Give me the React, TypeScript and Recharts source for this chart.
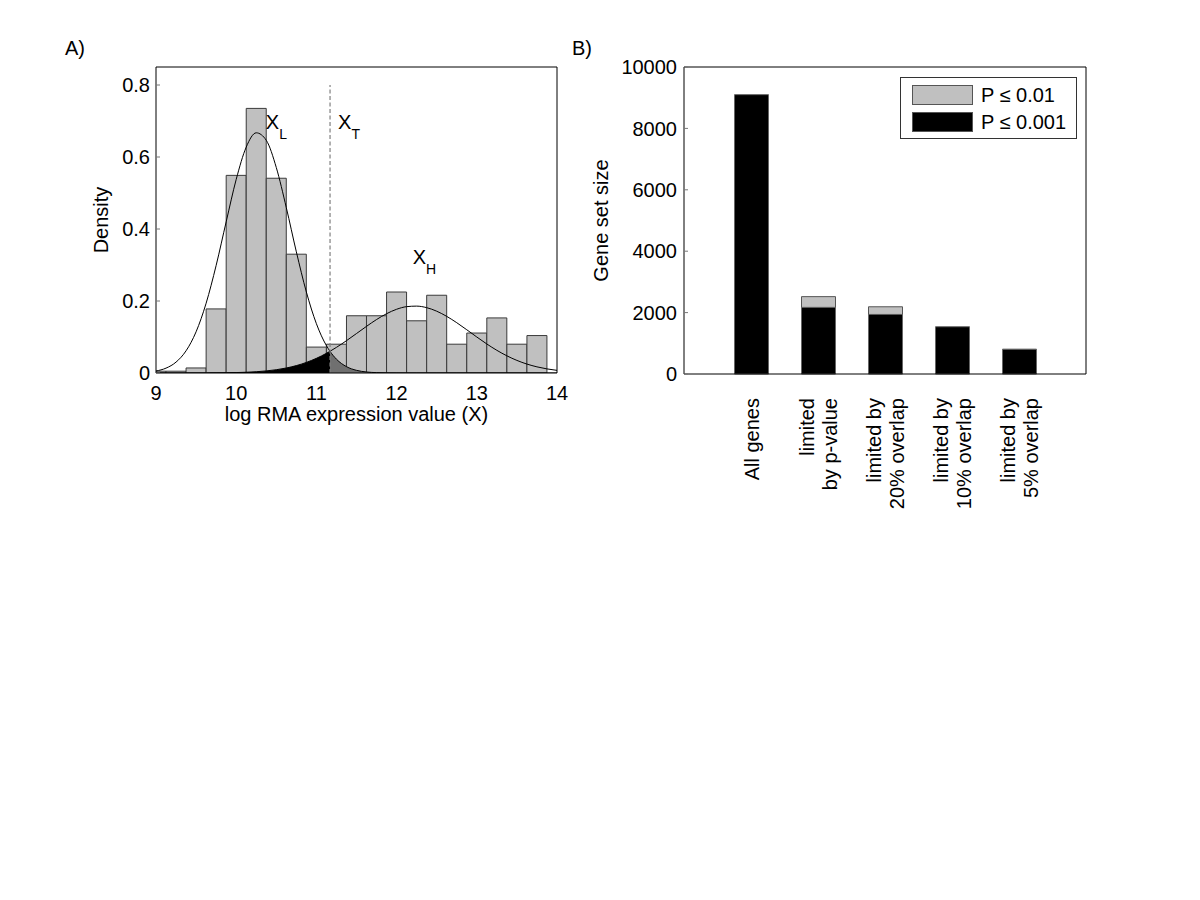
import React from 'react';
import {
  ComposedChart,
  BarChart,
  Bar,
  Line,
  Area,
  XAxis,
  YAxis,
  ReferenceLine,
  ReferenceDot,
  Legend,
} from 'recharts';

// ---------- Panel A data ----------
const binCenters = [9.0, 9.25, 9.5, 9.75, 10.0, 10.25, 10.5, 10.75, 11.0, 11.25, 11.5, 11.75, 12.0, 12.25, 12.5, 12.75, 13.0, 13.25, 13.5, 13.75];
const binDensity = [0.005, 0.005, 0.014, 0.178, 0.549, 0.735, 0.541, 0.33, 0.072, 0.08, 0.159, 0.159, 0.225, 0.145, 0.216, 0.08, 0.111, 0.153, 0.08, 0.104];

const curveX = [9.0, 9.125, 9.25, 9.375, 9.5, 9.625, 9.75, 9.875, 10.0, 10.125, 10.25, 10.375, 10.5, 10.625, 10.75, 10.875, 11.0, 11.125, 11.17, 11.25, 11.375, 11.5, 11.625, 11.75, 11.875, 12.0, 12.125, 12.25, 12.375, 12.5, 12.625, 12.75, 12.875, 13.0, 13.125, 13.25, 13.375, 13.5, 13.625, 13.75, 13.875, 14.0];
const lowCurve = [0.0055, 0.0135, 0.0303, 0.0617, 0.1145, 0.1938, 0.2989, 0.42, 0.5378, 0.6275, 0.6672, 0.6464, 0.5707, 0.4592, 0.3366, 0.2249, 0.1369, 0.076, 0.0601, 0.0384, 0.0177, 0.0074, 0.0028, 0.001, 0.0003, 0.0001, 0, 0, 0, 0, 0, 0, 0, 0, 0, 0, 0, 0, 0, 0, 0, 0];
const highCurve = [0, 0, 0, 0.00005, 0.0001, 0.0002, 0.0004, 0.0007, 0.0012, 0.0021, 0.0035, 0.0058, 0.0091, 0.0139, 0.0205, 0.0294, 0.0407, 0.0547, 0.0604, 0.0712, 0.0898, 0.1096, 0.1296, 0.1485, 0.1647, 0.177, 0.1843, 0.1858, 0.1815, 0.1717, 0.1573, 0.1397, 0.1201, 0.1, 0.0806, 0.063, 0.0477, 0.035, 0.0248, 0.0171, 0.0114, 0.0073];
const thresholdX = 11.17;
const densityTicks = [0, 0.2, 0.4, 0.6, 0.8];
const expressionTicks = [9, 10, 11, 12, 13, 14];

// ---------- Panel B data ----------
const categories = ['All genes', 'limited\nby p-value', 'limited by\n20% overlap', 'limited by\n10% overlap', 'limited by\n5% overlap'];
const strictCounts = [9100, 2170, 1940, 1540, 810]; // P <= 0.001
const looseCounts = [9100, 2520, 2190, 1540, 810]; // P <= 0.01
const sizeTicks = [0, 2000, 4000, 6000, 8000, 10000];

const FONT = '"Liberation Sans", Arial, Helvetica, sans-serif';

const histData = binCenters.map((x, i) => ({ x, density: binDensity[i] }));
const curveData = curveX.map((x, i) => ({ x, low: lowCurve[i], high: highCurve[i] }));
const leftTail = curveData.filter((d) => d.x >= 9.5 && d.x <= thresholdX);
const rightTail = curveData.filter((d) => d.x >= thresholdX && d.x <= 12);

const barData = categories.map((name, i) => ({
  name,
  strict: strictCounts[i],
  extra: looseCounts[i] - strictCounts[i],
}));
const catPositions = categories.map((_, i) => i + 1);

const subLabel = (main: string, sub: string) => (props: any) => {
  const vb = props.viewBox || {};
  return (
    <text x={vb.x} y={vb.y} fontSize={20} fill="#000" fontFamily={FONT}>
      {main}
      <tspan fontSize={14} dy={10}>{sub}</tspan>
    </text>
  );
};

const densityLabel = (props: any) => {
  const vb = props.viewBox;
  const x = vb.x + vb.width - 48;
  const y = vb.y + vb.height / 2;
  return (
    <text transform={`translate(${x},${y}) rotate(-90)`} textAnchor="middle" fontSize={20} fill="#000" fontFamily={FONT}>
      Density
    </text>
  );
};

const expressionLabel = (props: any) => {
  const vb = props.viewBox;
  return (
    <text x={vb.x + vb.width / 2} y={vb.y + 48} textAnchor="middle" fontSize={20} fill="#000" fontFamily={FONT}>
      log RMA expression value (X)
    </text>
  );
};

const sizeLabel = (props: any) => {
  const vb = props.viewBox;
  const x = vb.x + vb.width - 76;
  const y = vb.y + vb.height / 2;
  return (
    <text transform={`translate(${x},${y}) rotate(-90)`} textAnchor="middle" fontSize={20} fill="#000" fontFamily={FONT}>
      Gene set size
    </text>
  );
};

const CategoryTick = (props: any) => {
  const { x, y, payload } = props;
  const lines = String(payload.value).split('\n');
  const lineH = 23;
  return (
    <g transform={`translate(${x},${y}) rotate(-90)`}>
      <text textAnchor="end" fontSize={20} fill="#000" fontFamily={FONT}>
        {lines.map((ln, i) => (
          <tspan key={i} x={0} y={(i - (lines.length - 1) / 2) * lineH + 7.5}>
            {ln}
          </tspan>
        ))}
      </text>
    </g>
  );
};

const LegendBox = (props: any) => {
  const items = [...(props.payload || [])].reverse();
  return (
    <div
      style={{
        boxSizing: 'border-box',
        width: 177,
        height: 62,
        border: '1px solid #333',
        background: '#fff',
        position: 'relative',
        fontFamily: FONT,
      }}
    >
      {items.map((it: any, i: number) => (
        <div
          key={i}
          style={{ position: 'absolute', left: 11, top: 7 + i * 27, height: 20, display: 'flex', alignItems: 'center' }}
        >
          <span
            style={{
              display: 'inline-block',
              width: 61,
              height: 20,
              boxSizing: 'border-box',
              background: it.color,
              border: '1px solid #555',
            }}
          />
          <span style={{ marginLeft: 8, fontSize: 20, color: '#000', lineHeight: '20px' }}>{it.value}</span>
        </div>
      ))}
    </div>
  );
};

const tickStyle = { fontSize: 20, fill: '#000', fontFamily: FONT };
const axisLineStyle = { stroke: '#000', strokeWidth: 1 };
const tickLineStyle = { stroke: '#777', strokeWidth: 1 };

function PanelA() {
  return (
    <ComposedChart width={600} height={460} data={histData} margin={{ top: 62, right: 38, bottom: 57, left: 106 }}>
      <XAxis
        dataKey="x"
        type="number"
        domain={[9, 14]}
        ticks={expressionTicks}
        allowDataOverflow
        tickLine={false}
        tickSize={0}
        tickMargin={13}
        height={30}
        axisLine={axisLineStyle}
        tick={tickStyle}
        label={{ content: expressionLabel }}
      />
      <XAxis
        xAxisId="top"
        orientation="top"
        dataKey="x"
        type="number"
        domain={[9, 14]}
        ticks={expressionTicks}
        allowDataOverflow
        height={5}
        tick={false}
        tickSize={-4}
        tickLine={tickLineStyle}
        axisLine={axisLineStyle}
      />
      <YAxis
        type="number"
        domain={[0, 0.85]}
        ticks={densityTicks}
        allowDataOverflow
        width={50}
        tickSize={-4}
        tickMargin={10}
        tickLine={tickLineStyle}
        axisLine={axisLineStyle}
        tick={tickStyle}
        label={{ content: densityLabel }}
      />
      <YAxis
        yAxisId="r"
        orientation="right"
        type="number"
        domain={[0, 0.85]}
        ticks={densityTicks}
        width={5}
        tick={false}
        tickSize={-4}
        tickLine={tickLineStyle}
        axisLine={axisLineStyle}
      />
      <Bar dataKey="density" barSize={20} fill="#c0c0c0" stroke="#3a3a3a" strokeWidth={1} isAnimationActive={false} />
      <Area
        xAxisId="top"
        data={leftTail}
        dataKey="high"
        type="monotone"
        fill="#000"
        fillOpacity={1}
        stroke="none"
        isAnimationActive={false}
        zIndex={350}
      />
      <Area
        xAxisId="top"
        data={rightTail}
        dataKey="low"
        type="monotone"
        fill="#707070"
        fillOpacity={1}
        stroke="none"
        isAnimationActive={false}
        zIndex={350}
      />
      <Line xAxisId="top" data={curveData} dataKey="low" type="monotone" stroke="#000" strokeWidth={1} dot={false} isAnimationActive={false} />
      <Line xAxisId="top" data={curveData} dataKey="high" type="monotone" stroke="#000" strokeWidth={1} dot={false} isAnimationActive={false} />
      <ReferenceLine
        segment={[
          { x: thresholdX, y: 0 },
          { x: thresholdX, y: 0.8 },
        ]}
        stroke="#808080"
        strokeWidth={1.2}
        strokeDasharray="4 2.5"
      />
      <ReferenceDot x={10.37} y={0.678} r={0} fill="none" stroke="none" label={subLabel('X', 'L')} />
      <ReferenceDot x={11.27} y={0.678} r={0} fill="none" stroke="none" label={subLabel('X', 'T')} />
      <ReferenceDot x={12.2} y={0.303} r={0} fill="none" stroke="none" label={subLabel('X', 'H')} />
    </ComposedChart>
  );
}

function PanelB() {
  return (
    <BarChart width={640} height={540} data={barData} margin={{ top: 62, right: 109, bottom: 36, left: 74 }}>
      <XAxis
        dataKey="name"
        type="category"
        interval={0}
        padding={{ left: 33.5, right: 33.5 }}
        height={130}
        tickLine={false}
        tickSize={0}
        tickMargin={24}
        axisLine={axisLineStyle}
        tick={<CategoryTick />}
      />
      <XAxis
        xAxisId="top"
        orientation="top"
        type="number"
        domain={[0, 6]}
        ticks={catPositions}
        height={5}
        tick={false}
        tickSize={-4}
        tickLine={tickLineStyle}
        axisLine={axisLineStyle}
      />
      <YAxis
        type="number"
        domain={[0, 10000]}
        ticks={sizeTicks}
        width={50}
        tickSize={-4}
        tickMargin={11}
        tickLine={tickLineStyle}
        axisLine={axisLineStyle}
        tick={tickStyle}
        label={{ content: sizeLabel }}
      />
      <YAxis
        yAxisId="r"
        orientation="right"
        type="number"
        domain={[0, 10000]}
        ticks={sizeTicks}
        width={5}
        tick={false}
        tickSize={-4}
        tickLine={tickLineStyle}
        axisLine={axisLineStyle}
      />
      <Legend
        verticalAlign="middle"
        align="center"
        content={<LegendBox />}
        wrapperStyle={{ left: 340, top: 77, width: 177, height: 62 }}
      />
      <Bar dataKey="strict" name="P ≤ 0.001" stackId="s" barSize={34} fill="#000" stroke="#666" strokeWidth={1} isAnimationActive={false} />
      <Bar dataKey="extra" name="P ≤ 0.01" stackId="s" barSize={34} fill="#c0c0c0" stroke="#555" strokeWidth={1} isAnimationActive={false} />
    </BarChart>
  );
}

export default function App() {
  return (
    <div style={{ position: 'absolute', left: 0, top: 0, width: 1200, height: 900, background: '#fff', fontFamily: FONT }}>
      <div style={{ position: 'absolute', left: 0, top: 0 }}>
        <PanelA />
      </div>
      <div style={{ position: 'absolute', left: 560, top: 0 }}>
        <PanelB />
      </div>
      <div style={{ position: 'absolute', left: 65, top: 38, fontSize: 20, lineHeight: '20px', color: '#000' }}>A)</div>
      <div style={{ position: 'absolute', left: 572, top: 38, fontSize: 20, lineHeight: '20px', color: '#000' }}>B)</div>
    </div>
  );
}
